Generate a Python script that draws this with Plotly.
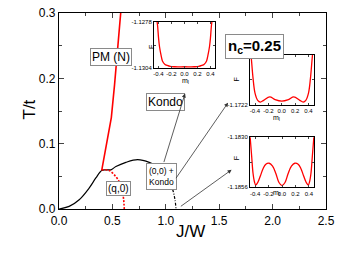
import plotly.graph_objects as go

FONT = "Arial, Liberation Sans, sans-serif"

# ---- main phase diagram data (J/W, T/t) ----
black_J = [0.0, 0.095, 0.189, 0.282, 0.345, 0.40, 0.44, 0.486, 0.533, 0.626, 0.736, 0.845, 0.939, 0.964]
black_T = [0.0, 0.004, 0.0142, 0.032, 0.0475, 0.059, 0.060, 0.060, 0.065, 0.0714, 0.0755, 0.0714, 0.0628, 0.0576]

dashdot_J = [0.964, 1.018, 1.065, 1.086, 1.096]
dashdot_T = [0.0576, 0.0475, 0.0295, 0.0142, 0.0]

red_J = [0.40, 0.44, 0.49, 0.52, 0.55, 0.577, 0.583]
red_T = [0.059, 0.095, 0.14, 0.19, 0.25, 0.30, 0.31]

reddash_J = [0.40, 0.47, 0.53, 0.57, 0.59, 0.605, 0.611]
reddash_T = [0.060, 0.059, 0.050, 0.040, 0.030, 0.015, 0.0]

dot_J = [0.964]
dot_T = [0.0576]

# ---- inset free-energy curves F(m_l) ----
in1_m = [-0.43, -0.415, -0.40, -0.385, -0.36, -0.34, -0.30, -0.27, -0.22, -0.15, 0.0,
         0.15, 0.22, 0.27, 0.30, 0.34, 0.36, 0.385, 0.40, 0.415, 0.43]
in1_F = [-1.1276, -1.1280, -1.1287, -1.1292, -1.1297, -1.1300, -1.1302, -1.13025, -1.13031, -1.13033, -1.13033,
         -1.13033, -1.13031, -1.13025, -1.1302, -1.1300, -1.1297, -1.1292, -1.1287, -1.1280, -1.1276]

in2_m = [-0.475, -0.46, -0.43, -0.40, -0.36, -0.32, -0.27, -0.18, -0.10, 0.0,
         0.10, 0.18, 0.27, 0.32, 0.36, 0.40, 0.43, 0.46, 0.475]
in2_F = [-1.1692, -1.1696, -1.1708, -1.1716, -1.17198, -1.17207, -1.17198, -1.17180, -1.17194, -1.17202,
         -1.17194, -1.17180, -1.17198, -1.17207, -1.17198, -1.1716, -1.1708, -1.1696, -1.1692]

in3_m = [-0.475, -0.45, -0.43, -0.41, -0.39, -0.36, -0.32, -0.28, -0.24, -0.19, -0.14, -0.09, -0.045, 0.0,
         0.045, 0.09, 0.14, 0.19, 0.24, 0.28, 0.32, 0.36, 0.39, 0.41, 0.43, 0.45, 0.475]
in3_F = [-1.1829, -1.1840, -1.18487, -1.1853, -1.18548, -1.18535, -1.1850, -1.18462, -1.18440, -1.18435, -1.18450, -1.18490, -1.18535, -1.18551,
         -1.18535, -1.18490, -1.18450, -1.18435, -1.18440, -1.18462, -1.1850, -1.18535, -1.18548, -1.1853, -1.18487, -1.1840, -1.1829]

inset_ranges = [(-1.1304, -1.1278), (-1.1722, -1.1696), (-1.1856, -1.1830)]
inset_labels = [("-1.1304", "-1.1278"), ("-1.1722", "-1.1696"), ("-1.1856", "-1.1830")]
m_ticks = [-0.4, -0.2, 0.0, 0.2, 0.4]
m_ticktext = ["-0.4", "-0.2", "0.0", "0.2", "0.4"]

fig = go.Figure()

fig.add_trace(go.Scatter(x=black_J, y=black_T, mode="lines", line=dict(color="black", width=1.2, shape="spline"),
                         showlegend=False))
fig.add_trace(go.Scatter(x=dashdot_J, y=dashdot_T, mode="lines",
                         line=dict(color="black", width=1.2, dash="3px,1.5px,1px,1.5px", shape="spline"),
                         showlegend=False))
fig.add_trace(go.Scatter(x=red_J, y=red_T, mode="lines", line=dict(color="red", width=1.6), showlegend=False))
fig.add_trace(go.Scatter(x=reddash_J, y=reddash_T, mode="lines",
                         line=dict(color="red", width=1.6, dash="2px,1.5px", shape="spline"), showlegend=False))
fig.add_trace(go.Scatter(x=dot_J, y=dot_T, mode="markers", marker=dict(color="black", size=5), showlegend=False))

for i, (m, F) in enumerate([(in1_m, in1_F), (in2_m, in2_F), (in3_m, in3_F)]):
    k = i + 2
    fig.add_trace(go.Scatter(x=m, y=F, mode="lines", xaxis=f"x{k}", yaxis=f"y{k}",
                             line=dict(color="red", width=1.3, shape="spline"), showlegend=False))

axis_common = dict(showline=True, linecolor="black", mirror="ticks", ticks="inside", automargin=False,
                   showgrid=False, zeroline=False, tickangle=0,
                   tickfont=dict(family=FONT, size=12, color="black"))

fig.update_layout(
    width=339, height=257,
    margin=dict(l=59, r=13, t=13, b=48, autoexpand=False),
    paper_bgcolor="white", plot_bgcolor="white",
    font=dict(family=FONT, color="black"),
    xaxis=dict(range=[0, 2.5], tickvals=[0, 0.5, 1.0, 1.5, 2.0, 2.5],
               ticktext=["0.0", "0.5", "1.0", "1.5", "2.0", "2.5"], ticklen=5, linewidth=1.3,
               minor=dict(tickvals=[0.25, 0.75, 1.25, 1.75, 2.25], ticklen=3, ticks="inside"),
               **axis_common),
    yaxis=dict(range=[0, 0.3], tickvals=[0, 0.1, 0.2, 0.3], ticktext=["0.0", "0.1", "0.2", "0.3"],
               ticklen=5, linewidth=1.3,
               minor=dict(tickvals=[0.05, 0.15, 0.25], ticklen=3, ticks="inside"),
               **axis_common),
)

# inset domains in paper coordinates
def px_x(p):
    return (p - 59) / 267.0

def px_y(p):
    return (209 - p) / 196.0

inset_boxes = [(154, 215, 22, 68), (250, 313.5, 55, 104.5), (250, 314, 137.3, 187.3)]
inset_xr = [(-0.47, 0.47), (-0.475, 0.475), (-0.475, 0.475)]

for i, (x0, x1, y0, y1) in enumerate(inset_boxes):
    k = i + 2
    lo, hi = inset_ranges[i]
    fig.update_layout(**{
        f"xaxis{k}": dict(domain=[px_x(x0), px_x(x1)], anchor=f"y{k}", range=list(inset_xr[i]),
                          tickvals=m_ticks, ticktext=m_ticktext, showline=True, linecolor="black",
                          linewidth=1, mirror="ticks", ticks="inside", ticklen=2, showgrid=False,
                          zeroline=False, tickangle=0, automargin=False,
                          tickfont=dict(family=FONT, size=6, color="black")),
        f"yaxis{k}": dict(domain=[px_y(y1), px_y(y0)], anchor=f"x{k}", range=[lo, hi],
                          tickvals=[lo, (lo + hi) / 2, hi], ticktext=[inset_labels[i][0], "", inset_labels[i][1]],
                          showline=True, linecolor="black", linewidth=1, mirror="ticks", ticks="inside",
                          ticklen=2, showgrid=False, zeroline=False, tickangle=0, automargin=False,
                          tickfont=dict(family=FONT, size=6, color="black")),
    })

annotations = []
# axis titles
annotations.append(dict(text="T/t", x=px_x(17), y=px_y(110), xref="paper", yref="paper", showarrow=False,
                        textangle=-90, font=dict(family=FONT, size=17, color="black")))
annotations.append(dict(text="J/W", x=px_x(190), y=px_y(243), xref="paper", yref="paper", showarrow=False,
                        font=dict(family=FONT, size=17, color="black")))

# inset axis titles
for (fx, fy, mx, my) in [(146, 43.5, 185, 81), (236, 79.5, 281.7, 117.5), (236, 162.3, 281.7, 198.5)]:
    annotations.append(dict(text="F", x=px_x(fx), y=px_y(fy), xref="paper", yref="paper", showarrow=False,
                            textangle=-90, font=dict(family=FONT, size=7, color="black")))
    annotations.append(dict(text="m<sub>l</sub>", x=px_x(mx), y=px_y(my), xref="paper", yref="paper",
                            showarrow=False, font=dict(family=FONT, size=7, color="black")))

# boxed labels
box = dict(bordercolor="#8a8a8a", borderwidth=1, bgcolor="white", showarrow=False, xref="paper", yref="paper")
annotations.append(dict(text="PM (N)", x=px_x(90), y=px_y(48), font=dict(family=FONT, size=12, color="black"),
                        borderpad=1, **box))
annotations.append(dict(text="Kondo", x=px_x(145.5), y=px_y(101.7), font=dict(family=FONT, size=12, color="black"),
                        borderpad=1, **box))
annotations.append(dict(text="(q,0)", x=px_x(106), y=px_y(196), font=dict(family=FONT, size=10, color="black"),
                        borderpad=1, **box))
annotations.append(dict(text="(0,0) +<br>Kondo", x=px_x(146), y=px_y(190.3),
                        font=dict(family=FONT, size=8.5, color="black"), borderpad=2, **box))
annotations.append(dict(text="<b>n<sub>c</sub>=0.25</b>", x=px_x(283.5), y=px_y(33.7),
                        font=dict(family=FONT, size=15, color="black"), borderpad=2, **box))

# arrows (data coordinates)
for (tx, ty, hx, hy) in [(0.978, 0.0695, 1.18, 0.1766), (1.086, 0.0449, 1.583, 0.1627), (1.127, 0.0025, 1.616, 0.060)]:
    annotations.append(dict(x=hx, y=hy, ax=tx, ay=ty, xref="x", yref="y", axref="x", ayref="y", text="",
                            showarrow=True, arrowhead=2, arrowsize=1, arrowwidth=0.8, arrowcolor="#333333",
                            standoff=0, startstandoff=0))

fig.update_layout(annotations=annotations)

fig.write_html("out.html", config={"displayModeBar": False},
               post_script="document.body.style.margin='0';document.body.style.padding='0';")
